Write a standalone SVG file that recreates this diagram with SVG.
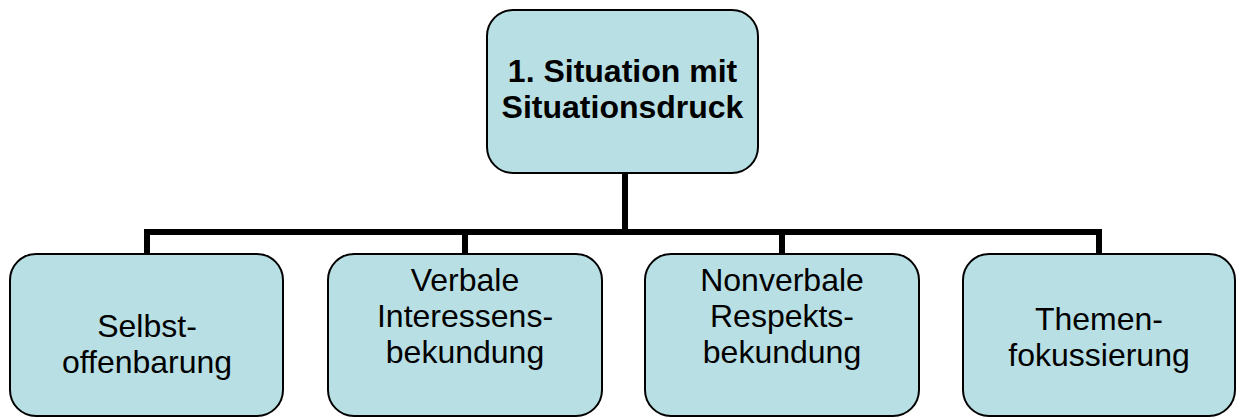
<svg xmlns="http://www.w3.org/2000/svg" width="1236" height="419" viewBox="0 0 1236 419">
<style>
.box{fill:#B8DFE3;stroke:#000;stroke-width:2}
.t{font-family:"Liberation Sans",Arial,sans-serif;font-size:32px;fill:#000;text-anchor:middle}
.b{font-weight:bold}
.c{stroke:#000;stroke-width:6;fill:none}
</style>
<rect width="1236" height="419" fill="#fff"/>
<g id="connectors">
<path class="c" d="M625,173 V232 M147,232 H1099 M147,229 V253 M465,229 V253 M782,229 V253 M1099,229 V253"/>
</g>
<g id="root">
<rect class="box" x="487" y="10" width="271" height="163" rx="26"/>
<text class="t b" x="622.5" y="82">1. Situation mit</text>
<text class="t b" x="622.5" y="118">Situationsdruck</text>
</g>
<g id="n1">
<rect class="box" x="10" y="254" width="273" height="162" rx="26"/>
<text class="t" x="147" y="337">Selbst-</text>
<text class="t" x="147" y="373">offenbarung</text>
</g>
<g id="n2">
<rect class="box" x="328" y="254" width="274" height="162" rx="26"/>
<text class="t" x="465" y="291">Verbale</text>
<text class="t" x="465" y="327">Interessens-</text>
<text class="t" x="465" y="363">bekundung</text>
</g>
<g id="n3">
<rect class="box" x="645" y="254" width="274" height="162" rx="26"/>
<text class="t" x="782" y="291">Nonverbale</text>
<text class="t" x="782" y="327">Respekts-</text>
<text class="t" x="782" y="363">bekundung</text>
</g>
<g id="n4">
<rect class="box" x="963" y="254" width="272" height="162" rx="26"/>
<text class="t" x="1099" y="330">Themen-</text>
<text class="t" x="1099" y="366">fokussierung</text>
</g>
</svg>
